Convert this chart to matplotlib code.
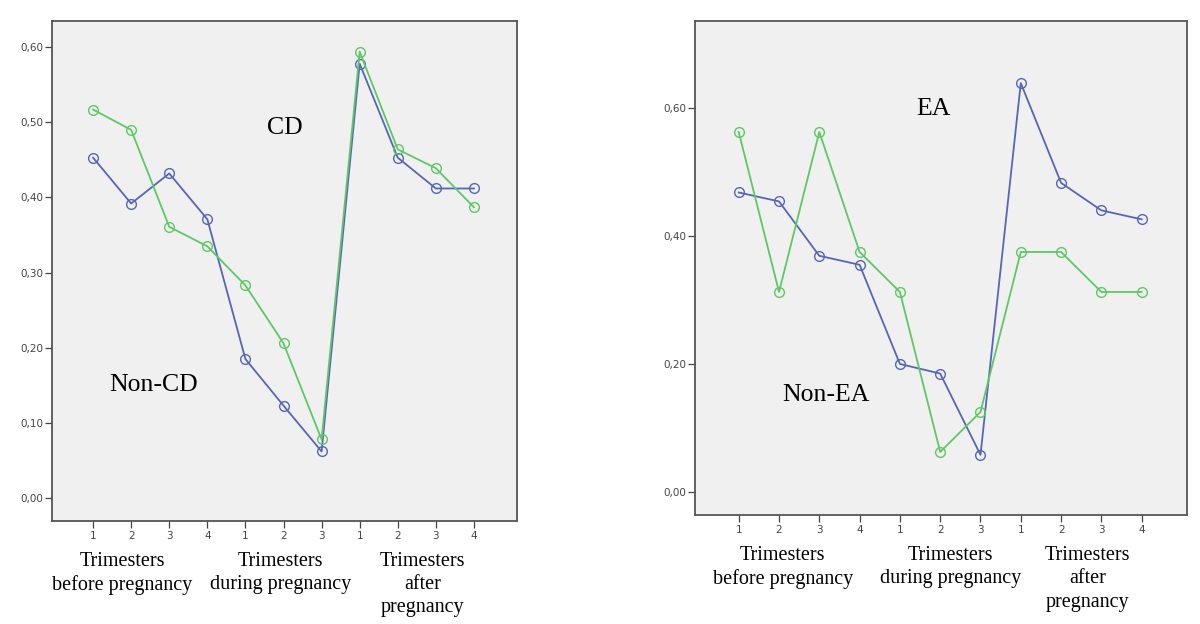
import numpy as np
import matplotlib
matplotlib.use("Agg")
import matplotlib.pyplot as plt
import matplotlib.transforms as mtransforms

# trimester tick labels (before: 4, during: 3, after: 4)
tick_labels = ["1", "2", "3", "4", "1", "2", "3", "1", "2", "3", "4"]
group_labels = ["Trimesters\nbefore pregnancy", "Trimesters\nduring pregnancy", "Trimesters\nafter\npregnancy"]

# left panel (CD)
cd_green = [0.517, 0.490, 0.361, 0.335, 0.283, 0.206, 0.078, 0.594, 0.464, 0.439, 0.387]
cd_blue = [0.453, 0.392, 0.432, 0.371, 0.185, 0.123, 0.062, 0.578, 0.453, 0.412, 0.412]

# right panel (EA)
ea_green = [0.5625, 0.3125, 0.5625, 0.375, 0.3125, 0.0625, 0.125, 0.375, 0.375, 0.3125, 0.3125]
ea_blue = [0.468, 0.454, 0.369, 0.355, 0.200, 0.185, 0.058, 0.639, 0.483, 0.440, 0.426]

BLUE = "#5566b8"
GREEN = "#5ec864"
BG = "#f0f0f0"
SERIF = "Liberation Serif"

fig = plt.figure(figsize=(12, 6.24), dpi=100)


def draw_panel(ax, green, blue, yticks, ylim, xlim, label_hi, label_lo, pos_hi, pos_lo, centers, label_y):
    x = np.arange(len(tick_labels))
    ax.set_facecolor(BG)
    ax.plot(x, blue, "-o", color=BLUE, lw=1.3, ms=7, mfc="none", mew=1.0)
    ax.plot(x, green, "-o", color=GREEN, lw=1.3, ms=7, mfc="none", mew=1.0)
    ax.set_xlim(*xlim)
    ax.set_ylim(*ylim)
    ax.set_yticks(yticks)
    ax.set_yticklabels(["{:.2f}".format(v).replace(".", ",") for v in yticks])
    ax.set_xticks(x)
    ax.set_xticklabels(tick_labels)
    ax.tick_params(axis="both", labelsize=7.5, colors="#444444", length=5, width=0.9)
    ax.tick_params(axis="y", pad=1)
    ax.tick_params(axis="x", pad=2.5)
    for s in ax.spines.values():
        s.set_color("#555555")
        s.set_linewidth(1.3)
    ax.text(pos_hi[0], pos_hi[1], label_hi, family=SERIF, fontsize=18.5, ha="center", va="center")
    ax.text(pos_lo[0], pos_lo[1], label_lo, family=SERIF, fontsize=18.5, ha="center", va="center")
    trans = mtransforms.blended_transform_factory(ax.transData, ax.transAxes)
    for c, g in zip(centers, group_labels):
        ax.text(c, label_y, g, family=SERIF, fontsize=14.5, ha="center", va="top",
                linespacing=1.3, transform=trans, clip_on=False)


ax1 = fig.add_axes([0.0433, 0.165, 0.3875, 0.801])
draw_panel(ax1, cd_green, cd_blue, [0.0, 0.1, 0.2, 0.3, 0.4, 0.5, 0.6], (-0.0306, 0.6346), (-1.08, 11.13),
           "CD", "Non-CD", (5.03, 0.493), (1.6, 0.151), [0.77, 4.93, 8.66], -0.062)

ax2 = fig.add_axes([0.579, 0.1747, 0.41, 0.7917])
draw_panel(ax2, ea_green, ea_blue, [0.0, 0.2, 0.4, 0.6], (-0.036, 0.736), (-1.09, 11.12),
           "EA", "Non-EA", (4.83, 0.598), (2.16, 0.152), [1.09, 5.26, 8.66], -0.063)

fig.savefig("out.png", dpi=100, facecolor="white")
